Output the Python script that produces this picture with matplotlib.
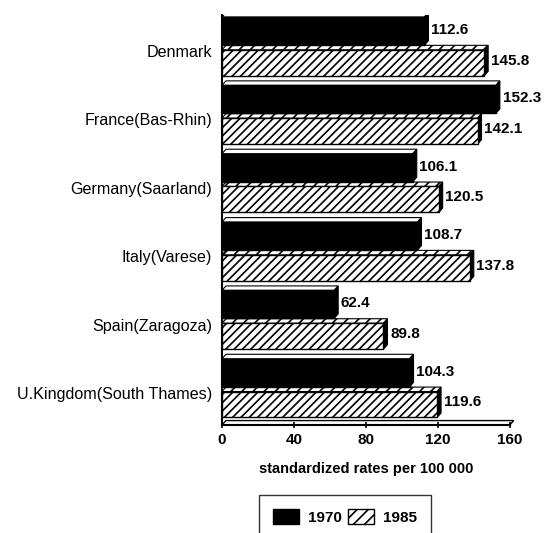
import numpy as np
import matplotlib.pyplot as plt
from matplotlib.patches import Polygon, Rectangle, Patch

countries = ["Denmark", "France(Bas-Rhin)", "Germany(Saarland)",
             "Italy(Varese)", "Spain(Zaragoza)", "U.Kingdom(South Thames)"]
rates_1970 = [112.6, 152.3, 106.1, 108.7, 62.4, 104.3]
rates_1985 = [145.8, 142.1, 120.5, 137.8, 89.8, 119.6]
xticks = [0, 40, 80, 120, 160]

plt.rcParams['font.family'] = ['Liberation Sans', 'DejaVu Sans']
plt.rcParams['hatch.linewidth'] = 1.2

fig = plt.figure(figsize=(5.46, 5.33), dpi=100)
ax = fig.add_axes([0.4066, 0.2026, 0.527, 0.7694])
ax.set_xlim(0, 160)
ax.set_ylim(5.5, -0.5)

# depth of the fake 3d effect (data units)
dx, dy = 2.2, -0.065


def bar3d(y0, y1, val, hatch):
    top = Polygon([(0, y0), (dx, y0 + dy), (val + dx, y0 + dy), (val, y0)],
                  closed=True, facecolor='white', edgecolor='black',
                  hatch='///' if hatch else None, lw=0.8, zorder=2)
    side = Polygon([(val, y0), (val + dx, y0 + dy), (val + dx, y1 + dy), (val, y1)],
                   closed=True, facecolor='black', edgecolor='black', lw=0.8, zorder=2)
    front = Rectangle((0, y0), val, y1 - y0,
                      facecolor='white' if hatch else 'black', edgecolor='black',
                      hatch='////' if hatch else None, lw=1.0, zorder=3)
    for p in (top, side, front):
        ax.add_patch(p)


for i, (a, b) in enumerate(zip(rates_1970, rates_1985)):
    bar3d(i - 0.47, i - 0.06, a, False)
    bar3d(i + 0.01, i + 0.39, b, True)
    ax.text(a + dx + 1.5, i - 0.28, f"{a:.1f}", va='center', ha='left',
            fontsize=11, fontweight='bold')
    ax.text(b + dx + 1.5, i + 0.17, f"{b:.1f}", va='center', ha='left',
            fontsize=11, fontweight='bold')

# floor strip
ax.add_patch(Polygon([(0, 5.5), (dx, 5.5 + dy), (160 + dx, 5.5 + dy), (160, 5.5)],
                     closed=True, facecolor='white', edgecolor='black', lw=1.0,
                     clip_on=False, zorder=1))

ax.set_yticks(np.arange(len(countries)) + 0.03)
ax.set_yticklabels(countries, fontsize=11.6)
ax.tick_params(axis='y', length=0, pad=7)
ax.set_xticks(xticks)
ax.set_xticklabels([str(t) for t in xticks], fontsize=11, fontweight='bold')
ax.tick_params(axis='x', length=4, width=1.2, direction='inout')
ax.set_xlabel("standardized rates per 100 000", fontsize=10.5, fontweight='bold', labelpad=11)

for s in ('top', 'right'):
    ax.spines[s].set_visible(False)
ax.spines['left'].set_linewidth(1.5)
ax.spines['bottom'].set_linewidth(1.5)

handles = [Patch(facecolor='black', edgecolor='black', label='1970'),
           Patch(facecolor='white', edgecolor='black', hatch='///', label='1985')]
fig.legend(handles=handles, loc='center', bbox_to_anchor=(0.632, 0.03), ncol=2,
           frameon=True, fancybox=False, edgecolor='black',
           prop={'weight': 'bold', 'size': 11}, handlelength=1.7, handleheight=1.1,
           handletextpad=0.6, columnspacing=0.4, borderpad=0.9, borderaxespad=0)

fig.savefig("out.png", dpi=100)
